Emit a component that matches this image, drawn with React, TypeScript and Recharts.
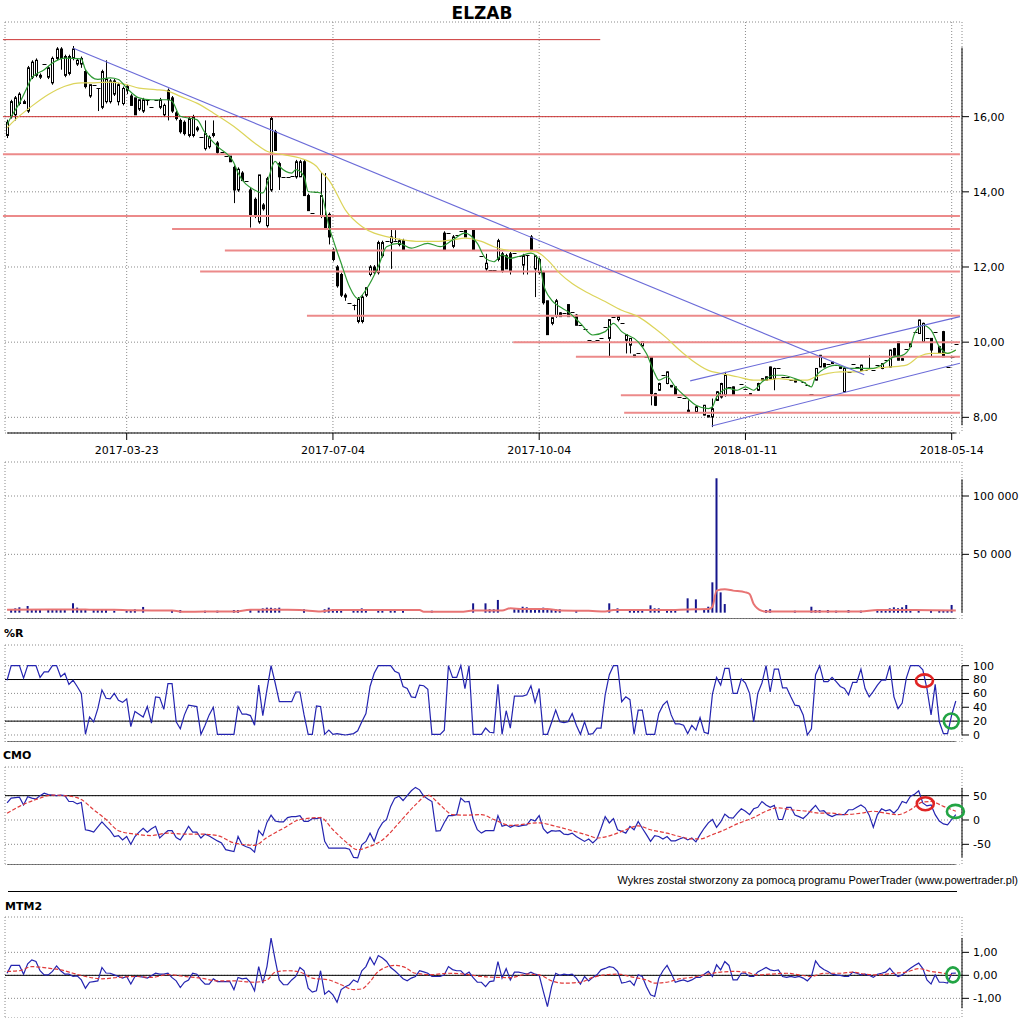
import React from "react";
import { ComposedChart, Bar, Line, XAxis, YAxis, CartesianGrid, ReferenceLine, ReferenceDot } from "recharts";

const FONT = "DejaVu Sans, Verdana, sans-serif";

// date ticks (bar index -> label)
const tickIdx = [29, 79, 129, 179, 229];
const tickDates = ["2017-03-23", "2017-07-04", "2017-10-04", "2018-01-11", "2018-05-14"];

// daily bars: open, high, low, close
const candles = [
  [15.5, 15.92, 15.43, 15.85], [16.0, 16.45, 15.95, 16.4], [16.05, 16.55, 15.9, 16.5], [16.35, 16.65, 16.3, 16.6], [16.35, 16.45, 16.35, 16.4],
  [16.15, 17.35, 16.1, 17.3], [17.05, 17.5, 17.0, 17.45], [17.1, 17.55, 17.05, 17.5], [17.05, 17.15, 17.0, 17.1], [17.4, 17.4, 17.4, 17.4],
  [17.05, 17.35, 17.0, 17.3], [16.9, 17.6, 16.85, 17.55], [17.55, 17.85, 17.5, 17.8], [17.8, 17.85, 17.25, 17.55], [17.1, 17.65, 17.05, 17.6],
  [17.15, 17.65, 17.1, 17.6], [17.55, 17.88, 17.5, 17.8], [17.4, 17.55, 17.35, 17.5], [17.4, 17.6, 17.3, 17.55], [17.2, 17.25, 16.75, 16.8],
  [16.55, 16.85, 16.5, 16.85], [16.85, 16.85, 16.85, 16.85], [16.75, 16.75, 16.15, 16.75], [16.25, 17.25, 16.2, 17.2], [16.4, 17.5, 16.35, 17.0],
  [16.4, 17.0, 16.35, 16.95], [16.6, 17.0, 16.55, 16.95], [16.4, 16.9, 16.3, 16.85], [16.35, 16.8, 16.3, 16.75], [16.7, 16.85, 16.6, 16.8],
  [16.55, 16.6, 16.3, 16.3], [16.5, 16.5, 16.05, 16.05], [16.2, 16.45, 16.15, 16.45], [16.15, 16.5, 16.1, 16.45], [16.45, 16.45, 16.3, 16.45],
  [16.25, 16.25, 16.25, 16.25], [16.45, 16.45, 16.45, 16.45], [16.25, 16.5, 16.2, 16.45], [16.05, 16.35, 16.0, 16.3], [16.7, 16.75, 15.9, 16.45],
  [16.5, 16.55, 16.1, 16.15], [16.1, 16.15, 15.9, 15.95], [15.9, 15.95, 15.55, 15.6], [15.85, 15.9, 15.5, 15.55], [15.5, 16.0, 15.45, 15.95],
  [15.5, 16.05, 15.45, 16.0], [15.7, 15.75, 15.6, 15.65], [15.45, 15.45, 15.45, 15.45], [15.15, 15.9, 15.1, 15.55], [15.2, 15.5, 15.15, 15.45],
  [15.55, 15.9, 15.45, 15.5], [15.3, 15.35, 15.0, 15.05], [15.05, 15.05, 15.05, 15.05], [14.95, 14.95, 14.95, 14.95], [14.95, 14.95, 14.8, 14.8],
  [14.65, 14.7, 13.7, 14.05], [14.05, 14.65, 14.0, 14.6], [14.5, 14.55, 14.3, 14.3], [14.3, 14.3, 14.3, 14.3], [14.05, 14.1, 13.05, 13.35],
  [13.8, 13.85, 13.3, 13.35], [13.2, 14.45, 13.15, 14.45], [13.65, 13.7, 13.5, 13.55], [13.1, 14.4, 13.05, 14.35], [14.05, 16.0, 14.0, 15.95],
  [15.6, 15.65, 15.1, 15.1], [14.75, 14.8, 14.05, 14.4], [14.4, 14.4, 14.4, 14.4], [14.4, 14.4, 14.4, 14.4], [14.42, 14.42, 14.42, 14.42],
  [14.4, 14.85, 14.35, 14.8], [14.4, 14.85, 14.4, 14.8], [14.8, 14.85, 13.9, 13.9], [13.9, 13.95, 13.5, 13.5], [13.43, 13.43, 13.43, 13.43],
  [14.0, 14.0, 14.0, 14.0], [13.35, 14.5, 13.3, 13.9], [13.35, 14.5, 13.0, 13.05], [13.4, 13.45, 12.6, 12.8], [12.45, 12.5, 12.15, 12.2],
  [12.0, 12.05, 11.45, 11.5], [11.8, 11.85, 11.2, 11.25], [11.25, 11.3, 11.1, 11.2], [11.03, 11.03, 11.03, 11.03], [11.0, 11.0, 10.85, 11.0],
  [10.55, 11.2, 10.5, 11.15], [10.55, 11.25, 10.5, 11.2], [11.25, 11.45, 11.2, 11.45], [11.8, 12.05, 11.75, 12.0], [12.0, 12.05, 11.8, 11.85],
  [11.85, 12.7, 11.8, 12.65], [12.3, 12.7, 12.25, 12.65], [12.68, 12.68, 12.68, 12.68], [12.65, 13.0, 11.95, 12.8], [12.7, 12.98, 12.7, 12.7],
  [12.6, 12.75, 12.55, 12.7], [12.7, 12.75, 12.45, 12.45], [12.45, 12.45, 12.45, 12.45], [12.45, 12.45, 12.45, 12.45], [12.45, 12.45, 12.45, 12.45],
  [12.7, 12.7, 12.7, 12.7], [12.68, 12.68, 12.68, 12.68], [12.7, 12.7, 12.7, 12.7], [12.45, 12.45, 12.45, 12.45], [12.45, 12.45, 12.45, 12.45],
  [12.45, 12.45, 12.45, 12.45], [12.9, 12.95, 12.45, 12.45], [12.9, 12.9, 12.9, 12.9], [12.55, 12.85, 12.5, 12.8], [12.85, 12.85, 12.85, 12.85],
  [12.97, 12.97, 12.97, 12.97], [13.0, 13.02, 12.8, 12.8], [13.0, 13.0, 13.0, 13.0], [13.0, 13.02, 12.45, 12.45], [12.45, 12.45, 12.45, 12.45],
  [12.3, 12.3, 12.3, 12.3], [11.95, 12.35, 11.9, 12.1], [11.92, 11.92, 11.92, 11.92], [11.92, 11.92, 11.92, 11.92], [12.2, 12.75, 12.15, 12.7],
  [12.35, 12.4, 11.85, 11.9], [12.3, 12.35, 11.95, 11.95], [12.35, 12.4, 11.8, 11.9], [12.37, 12.37, 12.37, 12.37], [12.28, 12.28, 12.28, 12.28],
  [12.05, 12.35, 11.8, 12.3], [12.32, 12.32, 11.8, 12.32], [12.8, 12.85, 12.45, 12.45], [11.95, 12.3, 11.2, 12.3], [11.85, 12.25, 11.8, 12.2],
  [11.85, 11.9, 11.0, 11.05], [11.1, 11.1, 10.2, 10.2], [10.5, 10.65, 10.45, 10.65], [10.7, 11.15, 10.65, 11.1], [10.78, 10.8, 10.68, 10.68],
  [10.77, 10.77, 10.77, 10.77], [11.0, 11.0, 10.68, 10.68], [10.81, 10.81, 10.81, 10.81], [10.72, 10.75, 10.45, 10.45], [10.45, 10.45, 10.45, 10.45],
  [10.36, 10.36, 10.36, 10.36], [10.05, 10.05, 10.05, 10.05], [10.03, 10.03, 10.03, 10.03], [10.05, 10.05, 10.05, 10.05], [10.1, 10.1, 10.1, 10.1],
  [10.41, 10.41, 10.41, 10.41], [10.1, 10.6, 9.6, 10.6], [10.68, 10.68, 10.68, 10.68], [10.6, 10.7, 10.55, 10.68], [10.5, 10.5, 10.5, 10.5],
  [10.05, 10.2, 9.7, 10.2], [9.92, 10.1, 9.7, 10.1], [9.66, 9.66, 9.6, 9.61], [9.7, 9.7, 9.7, 9.7], [9.9, 10.01, 9.88, 10.01],
  [9.61, 9.61, 9.61, 9.61], [9.6, 9.62, 8.32, 8.63], [8.63, 8.65, 8.3, 8.32], [8.72, 8.92, 8.7, 8.9], [9.12, 9.12, 9.12, 9.12],
  [8.9, 9.22, 8.88, 9.21], [8.85, 8.86, 8.8, 8.81], [8.81, 8.82, 8.58, 8.59], [8.54, 8.54, 8.54, 8.54], [8.52, 8.52, 8.52, 8.52],
  [8.19, 8.45, 8.14, 8.14], [8.14, 8.14, 8.14, 8.14], [8.14, 8.3, 8.12, 8.28], [8.14, 8.14, 8.14, 8.14], [8.06, 8.33, 8.05, 8.32],
  [8.05, 8.06, 8.0, 8.01], [8.01, 8.5, 7.74, 8.23], [8.45, 8.7, 8.44, 8.68], [8.54, 8.92, 8.5, 8.9], [8.59, 9.21, 8.55, 9.12],
  [8.81, 8.81, 8.81, 8.81], [8.81, 8.82, 8.59, 8.59], [8.59, 8.59, 8.59, 8.59], [8.9, 8.9, 8.9, 8.9], [8.75, 8.75, 8.75, 8.75],
  [8.63, 8.64, 8.59, 8.59], [8.59, 8.59, 8.59, 8.59], [8.72, 8.92, 8.7, 8.9], [8.99, 9.04, 8.98, 9.03], [8.99, 9.09, 8.98, 9.08],
  [9.34, 9.35, 9.03, 9.03], [9.03, 9.32, 8.72, 9.3], [9.3, 9.3, 9.3, 9.3], [9.08, 9.08, 9.08, 9.08], [9.08, 9.08, 9.08, 9.08],
  [9.0, 9.0, 9.0, 9.0], [8.94, 9.0, 8.93, 8.99], [8.99, 8.99, 8.99, 8.99], [8.94, 8.94, 8.94, 8.94], [8.85, 8.85, 8.85, 8.85],
  [8.63, 8.63, 8.63, 8.63], [8.99, 9.31, 8.98, 9.3], [9.34, 9.66, 9.33, 9.65], [9.43, 9.44, 9.33, 9.34], [9.43, 9.43, 9.43, 9.43],
  [9.47, 9.48, 9.43, 9.43], [9.39, 9.39, 9.39, 9.39], [9.34, 9.35, 9.3, 9.3], [8.68, 9.31, 8.66, 9.3], [9.21, 9.21, 9.21, 9.21],
  [9.43, 9.43, 9.43, 9.43], [9.35, 9.35, 9.35, 9.35], [9.25, 9.4, 9.24, 9.39], [9.25, 9.25, 9.25, 9.25], [9.3, 9.65, 9.3, 9.3],
  [9.25, 9.25, 9.25, 9.25], [9.39, 9.39, 9.39, 9.39], [9.3, 9.44, 9.28, 9.43], [9.52, 9.52, 9.52, 9.52], [9.34, 9.8, 9.33, 9.79],
  [9.83, 9.85, 9.65, 9.65], [10.01, 10.02, 9.52, 9.52], [9.56, 9.57, 9.52, 9.52], [9.83, 9.83, 9.83, 9.83], [9.88, 9.97, 9.87, 9.96],
  [10.28, 10.28, 10.28, 10.28], [10.23, 10.6, 10.22, 10.59], [10.01, 10.52, 10.0, 10.5], [10.1, 10.1, 10.1, 10.1], [10.1, 10.11, 9.61, 9.79],
  [10.28, 10.28, 10.28, 10.28], [9.88, 9.9, 9.7, 9.7], [10.28, 10.3, 9.61, 9.61], [9.34, 9.34, 9.34, 9.34], [9.61, 9.61, 9.61, 9.61],
  [9.96, 9.96, 9.96, 9.96],
];

// moving averages on price: [bar index, value]
const shortAvg = [
  [0, 15.79], [1, 16.0], [3, 16.36], [5, 16.81], [6, 17.04], [9, 17.25], [11, 17.43], [14, 17.56], [18, 17.54], [19, 17.25],
  [22, 16.99], [25, 17.03], [27, 16.99], [29, 16.76], [32, 16.5], [35, 16.45], [39, 16.45], [40, 16.41], [42, 16.01], [46, 15.92],
  [48, 15.57], [51, 15.21], [55, 14.77], [56, 14.5], [60, 14.05], [62, 13.97], [65, 14.81], [66, 14.68], [69, 14.5], [70, 14.59],
  [72, 14.41], [73, 14.01], [76, 13.97], [78, 13.1], [81, 12.1], [83, 11.48], [85, 11.16], [87, 11.39], [90, 12.01], [92, 12.54],
  [95, 12.63], [98, 12.5], [102, 12.63], [105, 12.54], [108, 12.72], [111, 12.9], [114, 12.63], [116, 12.23], [118, 12.14], [120, 12.32],
  [122, 12.23], [124, 12.28], [127, 12.37], [129, 12.19], [130, 11.56], [132, 11.12], [134, 10.94], [136, 10.81], [139, 10.5], [142, 10.19],
  [145, 10.28], [147, 10.5], [149, 10.28], [153, 10.01], [155, 9.7], [157, 9.17], [158, 8.99], [160, 9.08], [162, 8.81], [165, 8.5],
  [167, 8.32], [170, 8.23], [171, 8.28], [172, 8.54], [175, 8.77], [177, 8.72], [179, 8.81], [181, 8.72], [183, 8.94], [186, 9.12],
  [188, 9.12], [191, 9.03], [193, 8.94], [195, 8.81], [196, 9.08], [199, 9.34], [201, 9.39], [204, 9.3], [207, 9.3], [210, 9.3],
  [212, 9.39], [215, 9.61], [217, 9.65], [219, 9.88], [220, 10.23], [222, 10.45], [224, 10.32], [226, 9.88], [228, 9.7], [230, 9.79],
];
const longAvg = [
  [0, 15.7], [2, 15.92], [6, 16.28], [10, 16.59], [14, 16.81], [18, 16.9], [21, 16.9], [25, 16.92], [29, 16.85], [32, 16.76],
  [36, 16.72], [39, 16.68], [42, 16.54], [46, 16.36], [50, 16.1], [55, 15.74], [60, 15.3], [63, 15.08], [67, 14.99], [71, 14.9],
  [75, 14.68], [76, 14.54], [78, 14.32], [79, 14.14], [82, 13.52], [86, 13.08], [89, 12.9], [92, 12.81], [96, 12.72], [100, 12.68],
  [104, 12.68], [108, 12.72], [111, 12.77], [115, 12.68], [118, 12.54], [121, 12.45], [124, 12.41], [128, 12.41], [131, 12.19], [134, 11.83],
  [137, 11.56], [141, 11.3], [145, 11.08], [149, 10.85], [153, 10.68], [157, 10.37], [160, 10.1], [163, 9.79], [166, 9.52], [170, 9.25],
  [173, 9.17], [177, 9.08], [181, 8.99], [184, 8.99], [187, 9.03], [191, 8.99], [194, 8.99], [196, 9.08], [199, 9.17], [202, 9.21],
  [206, 9.21], [210, 9.3], [214, 9.34], [218, 9.39], [221, 9.61], [224, 9.7], [228, 9.7], [230, 9.79],
];

// support / resistance levels
const levelPrices = [18.05, 16.0, 15.0, 13.36, 13.01, 12.44, 11.88, 10.7, 10.0, 9.61, 8.59, 8.12];
const levelFrom = [-1, -1, -1, -1, 40, 52.8, 46.8, 72.7, 122.7, 137.9, 148.8, 149.6];
const levelTo = [143.8, 231, 231, 231, 231, 231, 231, 231, 231, 231, 231, 231];

// trend lines: [x1, y1, x2, y2]
const trendLines = [
  [16.07, 17.82, 207.8, 9.13],
  [165.6, 8.97, 231.0, 10.68],
  [170.8, 7.77, 231.0, 9.44],
];

// volume: [bar index, shares]
const volume = [
  [1, 2900], [2, 3700], [3, 4600], [5, 5700], [6, 3100], [7, 3100], [8, 3100], [10, 2900], [11, 2900], [12, 2900],
  [13, 2900], [14, 2900], [16, 8000], [17, 4300], [18, 2900], [19, 2900], [21, 2300], [22, 2300], [23, 2300], [24, 2900],
  [26, 1700], [29, 2300], [30, 2300], [31, 2900], [33, 4900], [40, 1700], [42, 2300], [48, 1700], [51, 1700], [55, 2300],
  [56, 2300], [59, 2900], [61, 2300], [62, 3700], [63, 4300], [64, 4300], [65, 3700], [66, 4300], [72, 2900], [77, 2900],
  [78, 4300], [79, 2900], [80, 2900], [81, 2900], [84, 1700], [85, 2900], [86, 3700], [87, 2900], [90, 2300], [91, 2900],
  [93, 2900], [94, 2900], [96, 1700], [103, 1700], [113, 8000], [116, 8000], [117, 2900], [118, 2900], [119, 10900], [123, 2900],
  [124, 3100], [125, 5100], [126, 4600], [127, 3700], [128, 3700], [129, 3700], [130, 4300], [131, 3100], [132, 2900], [133, 2900],
  [134, 2900], [138, 1700], [146, 8000], [148, 3700], [151, 2300], [152, 2900], [153, 2900], [154, 2900], [156, 6300], [157, 3700],
  [158, 3700], [160, 2300], [161, 2300], [162, 2300], [165, 12300], [167, 11400], [169, 3100], [170, 5100], [171, 26000], [172, 115200],
  [173, 17400], [174, 7400], [184, 2300], [185, 2900], [191, 1700], [195, 5100], [196, 2300], [197, 2300], [199, 2300], [201, 1700],
  [204, 2300], [207, 1700], [211, 2300], [212, 2300], [213, 2900], [214, 3700], [215, 4600], [216, 3700], [217, 4600], [218, 6600],
  [219, 2900], [221, 2300], [224, 2300], [226, 2300], [227, 1700], [228, 1700], [229, 6600],
];
const volumeAvg = [
  [0, 2600], [10, 2700], [20, 2600], [26, 2500], [30, 2000], [40, 1800], [43, 700], [48, 900], [55, 900], [59, 2500],
  [68, 2600], [71, 2300], [76, 1000], [79, 2300], [90, 2300], [100, 2200], [101, 800], [110, 800], [113, 1800], [120, 1800],
  [122, 3800], [125, 3100], [131, 3100], [134, 1800], [141, 1600], [145, 1000], [147, 2300], [160, 2300], [165, 2800], [170, 3100],
  [171, 5100], [172, 18900], [174, 20000], [176, 18900], [179, 17400], [180, 16000], [181, 7400], [183, 1500], [184, 900], [195, 900],
  [200, 900], [207, 1000], [211, 2300], [220, 2300], [230, 1800],
];

// Williams %R, one value per bar
const williamsR = [
  79, 100, 100, 100, 82, 100, 100, 100, 83, 91,
  91, 100, 100, 84, 89, 73, 79, 70, 60, 1,
  26, 19, 38, 65, 53, 52, 60, 50, 47, 52,
  12, 34, 30, 26, 41, 17, 55, 54, 37, 74,
  74, 19, 9, 29, 43, 42, 41, 1, 14, 29,
  40, 1, 1, 1, 1, 1, 41, 30, 30, 28,
  14, 72, 28, 65, 100, 75, 48, 48, 48, 48,
  62, 62, 29, 1, 1, 42, 41, 1, 7, 1,
  2, 1, 0, 1, 2, 6, 19, 31, 70, 89,
  100, 100, 100, 100, 92, 89, 70, 67, 55, 54,
  72, 71, 66, 1, 1, 1, 7, 100, 83, 83,
  100, 67, 100, 1, 1, 1, 10, 4, 3, 73,
  1, 35, 10, 56, 56, 56, 58, 71, 47, 67,
  1, 1, 18, 36, 19, 18, 19, 31, 14, 1,
  19, 1, 2, 10, 10, 58, 87, 100, 100, 48,
  55, 51, 1, 36, 36, 1, 1, 1, 31, 43,
  49, 29, 16, 16, 14, 2, 14, 7, 25, 4,
  2, 59, 83, 72, 96, 96, 60, 60, 81, 75,
  60, 19, 60, 75, 100, 62, 95, 95, 68, 68,
  55, 43, 42, 29, 0, 9, 87, 100, 77, 77,
  83, 77, 70, 67, 58, 76, 76, 95, 67, 55,
  63, 72, 79, 79, 100, 55, 38, 46, 82, 100,
  100, 100, 94, 67, 29, 73, 19, 2, 2, 29,
  49,
];

// CMO, one value per bar, plus its average [bar index, value]
const cmo = [
  35, 45, 46, 47, 31, 48, 45, 43, 50, 55,
  52, 51, 50, 51, 50, 38, 38, 33, 36, -20,
  -22, -25, -14, -4, -13, -22, -34, -32, -41, -34,
  -50, -34, -25, -17, -25, -18, -13, -37, -29, -22,
  -22, -36, -41, -28, -13, -25, -25, -37, -29, -33,
  -38, -43, -47, -61, -63, -65, -34, -51, -55, -58,
  -66, -22, -32, -5, 10, -2, -4, -4, 5, 7,
  7, 9, -3, -3, 3, 3, 5, -44, -58, -58,
  -58, -58, -58, -60, -77, -78, -51, -44, -27, -44,
  -20, -6, 1, 28, 45, 49, 40, 50, 60, 67,
  62, 49, 43, 38, -23, -22, -5, 9, 9, 11,
  45, 37, 38, 1, -20, -27, -22, -22, -22, 9,
  -13, -10, -15, -11, -13, -11, -10, 1, -2, 9,
  -18, -27, -22, -23, -22, -29, -30, -27, -34, -39,
  -44, -39, -47, -39, -17, 7, -6, 3, -20, -23,
  -27, -13, -20, -3, -17, -30, -44, -32, -34, -39,
  -34, -43, -43, -39, -36, -41, -37, -45, -30, -17,
  -6, 1, -15, -4, 12, 5, 4, 14, 23, 18,
  11, 23, 26, 38, 31, 26, 30, 1, 1, 26,
  26, 10, 7, 3, 11, 21, 30, 18, 19, 11,
  7, 11, 11, 11, 21, 21, 26, 31, 25, 10,
  -15, 11, 23, 19, 21, 14, 23, 38, 35, 49,
  53, 60, 35, 29, 31, 11, -2, -8, -10, 1,
  11,
];
const cmoAvg = [
  [0, 14], [3, 28], [7, 42], [11, 51], [15, 49], [18, 42], [21, 21], [24, 1], [27, -22], [31, -29],
  [35, -32], [39, -27], [43, -29], [47, -29], [51, -32], [55, -47], [60, -52], [63, -36], [67, -17], [71, 1],
  [76, 5], [79, -20], [82, -44], [85, -61], [88, -54], [91, -41], [95, -6], [99, 31], [102, 51], [105, 31],
  [108, 11], [111, 10], [115, 11], [118, 1], [122, -11], [129, -6], [133, -13], [137, -22], [141, -32], [143, -37],
  [147, -30], [150, -20], [153, -12], [156, -20], [160, -27], [163, -34], [166, -39], [168, -39], [171, -30], [174, -20],
  [177, -8], [181, 5], [184, 18], [187, 25], [190, 21], [194, 18], [197, 14], [200, 14], [203, 11], [207, 14],
  [210, 18], [213, 14], [216, 11], [219, 21], [222, 37], [224, 38], [227, 28], [230, 18],
];

// MTM2, one value per bar, plus its average
const mtm2 = [
  0.09, 0.43, 0.43, 0.43, 0.05, 0.5, 0.67, 0.6, 0.2, 0.02,
  0.02, 0.17, 0.41, 0.2, 0.05, 0.05, -0.05, -0.02, -0.2, -0.56,
  -0.3, -0.27, -0.24, 0.34, 0.1, 0.09, 0.02, -0.05, -0.12, -0.05,
  -0.38, -0.05, -0.05, -0.08, -0.12, -0.02, 0.09, 0.05, 0.05, 0.09,
  -0.1, -0.24, -0.53, -0.3, -0.2, 0.09, 0.05, -0.2, -0.38, -0.38,
  -0.15, -0.27, -0.27, -0.27, -0.27, -0.62, -0.09, -0.15, -0.12, -0.3,
  -0.67, 0.38, -0.34, 0.38, 1.62, 0.67, -0.2, -0.41, -0.41, -0.2,
  -0.05, 0.34, 0.2, -0.56, -0.73, -0.67, 0.2, -0.82, -0.67, -0.85,
  -1.17, -0.62, -0.5, -0.41, -0.2, -0.3, 0.2, 0.38, 0.78, 0.46,
  0.86, 0.75, 0.6, 0.34, 0.2, 0.03, -0.15, -0.24, -0.12, -0.05,
  0.2, 0.15, 0.09, -0.05, -0.05, -0.05, 0.02, 0.38, 0.25, 0.2,
  0.2, 0.02, 0.14, -0.1, -0.3, -0.3, -0.49, -0.27, -0.24, 0.6,
  -0.12, 0.29, -0.2, 0.14, 0.14, 0.1, 0.05, 0.14, 0.05, 0,
  -0.7, -1.36, -0.49, 0.09, 0, 0.05, 0.02, 0.05, -0.12, -0.38,
  -0.05, -0.24, -0.09, 0.02, 0.24, 0.3, 0.38, 0.34, 0.17, -0.34,
  -0.3, -0.24, -0.44, 0.02, -0.05, -0.5, -0.85, -0.92, -0.12, 0.2,
  0.43, 0.09, -0.3, -0.24, -0.2, -0.27, -0.2, -0.09, -0.09, 0.05,
  0.17, -0.05, 0.46, 0.24, 0.6, 0.43, -0.2, -0.2, 0.09, 0.09,
  -0.05, -0.05, 0.15, 0.24, 0.34, 0.24, 0.2, 0.24, -0.05, -0.09,
  -0.05, -0.09, -0.05, -0.12, -0.24, -0.05, 0.63, 0.38, 0.25, 0.17,
  0.05, 0.02, 0, -0.05, -0.05, 0.14, 0.09, 0.02, 0.05, 0,
  -0.09, 0.05, 0.09, 0.14, 0.31, 0.09, -0.05, 0.02, 0.17, 0.31,
  0.43, 0.53, 0.29, -0.2, -0.38, 0.02, -0.3, -0.3, -0.34, 0.09,
  0.1,
];
const mtm2Avg = [
  [0, 0.17], [3, 0.2], [6, 0.38], [10, 0.31], [13, 0.24], [16, 0.09], [19, -0.05], [23, -0.15], [27, -0.09], [31, -0.05],
  [35, -0.09], [39, 0.03], [43, -0.05], [47, -0.12], [51, -0.24], [55, -0.24], [60, -0.3], [63, -0.2], [65, 0.14], [68, 0.2],
  [71, 0.14], [74, -0.12], [78, -0.2], [81, -0.41], [84, -0.62], [86, -0.59], [88, -0.27], [90, 0.17], [94, 0.43], [96, 0.38],
  [99, 0.09], [103, 0.03], [107, 0.09], [111, 0.05], [115, -0.05], [119, -0.09], [122, -0.1], [126, 0.05], [129, 0.02], [132, -0.24],
  [135, -0.34], [139, -0.3], [142, -0.09], [145, 0.02], [148, 0.05], [152, -0.09], [155, -0.2], [157, -0.34], [160, -0.3], [163, -0.15],
  [166, -0.09], [169, 0.02], [173, 0.14], [176, 0.17], [179, 0.14], [182, 0.02], [185, 0.05], [189, 0.09], [192, 0.02], [195, -0.05],
  [198, 0.09], [202, 0.09], [205, 0.14], [208, 0.05], [211, 0.02], [215, 0.09], [218, 0.14], [221, 0.29], [224, 0.17], [227, 0.09],
  [229, 0.02],
];

// signal marks: [bar index, value]
const wrSignals = { red: [222.4, 78.4], green: [228.9, 20.2] };
const cmoSignals = { red: [222.6, 33.5], green: [229.9, 17.7] };
const mtmSignals = { green: [229.3, 0.02] };

const X_DOMAIN: [number, number] = [-0.5, 231.5];
const X_END = 231.5;
const AX_START = 0;
const AX_END = 230;

const toMap = (pairs: number[][]) => new Map(pairs.map((p) => [p[0], p[1]]));
const shortMap = toMap(shortAvg);
const longMap = toMap(longAvg);
const volMap = toMap(volume);
const volAvgMap = toMap(volumeAvg);
const cmoAvgMap = toMap(cmoAvg);
const mtmAvgMap = toMap(mtm2Avg);

const priceRows = candles.map((k, i) => ({
  i, o: k[0], h: k[1], l: k[2], c: k[3], range: [k[2], k[1]],
  green: shortMap.get(i), yellow: longMap.get(i),
}));
const volRows = candles.map((_, i) => ({ i, v: volMap.get(i), avg: volAvgMap.get(i) }));
const wrRows = williamsR.map((v, i) => ({ i, v }));
const cmoRows = cmo.map((v, i) => ({ i, v, avg: cmoAvgMap.get(i) }));
const mtmRows = mtm2.map((v, i) => ({ i, v, avg: mtmAvgMap.get(i) }));

const comma = (v: number) => v.toFixed(2).replace(".", ",");
const spaced = (v: number) => String(v).replace(/\B(?=(\d{3})+(?!\d))/g, " ");
const dateLabel = (v: number) => tickDates[tickIdx.indexOf(v)] ?? "";

const tickStyle = { fontSize: 11, fill: "#000", fontFamily: FONT };
const MARGIN_L = 5;
const MARGIN_R = 7;
const GRID = "#8a8a8a";
const BLUE = "#2424b0";

function Candle(props: any) {
  const { x, y, width, height, payload } = props;
  if (x == null || y == null || !payload) return null;
  const cx = Math.round(x + width / 2);
  const top = Math.min(y, y + height);
  const bot = Math.max(y, y + height);
  const { o, h, l, c } = payload;
  const span = h - l;
  const k = span > 0 ? (bot - top) / span : 0;
  const py = (v: number) => top + (h - v) * k;
  const b1 = py(Math.max(o, c));
  const b2 = py(Math.min(o, c));
  return (
    <g>
      {span > 0 && <line x1={cx + 0.5} x2={cx + 0.5} y1={top} y2={bot} stroke="#000" />}
      {b2 - b1 < 1.2 ? (
        <line x1={cx - 1.5} x2={cx + 2.5} y1={Math.round(b1) + 0.5} y2={Math.round(b1) + 0.5} stroke="#000" />
      ) : (
        <rect x={cx - 0.5} y={b1} width={2} height={b2 - b1} fill={c >= o ? "#fff" : "#000"} stroke="#000" />
      )}
    </g>
  );
}

const ring = (color: string, rx: number, ry: number) => (p: any) =>
  <ellipse cx={p.cx} cy={p.cy} rx={rx} ry={ry} fill="none" stroke={color} strokeWidth={2.6} />;

function hiddenX() {
  return (
    <XAxis type="number" dataKey="i" domain={X_DOMAIN} allowDataOverflow ticks={tickIdx} interval={0}
      height={0} tick={false} axisLine={false} tickLine={false} />
  );
}

function rightY(domain: [number, number], ticks: number[], fmt?: (v: number) => string, width = 55) {
  return (
    <YAxis orientation="right" width={width} domain={domain} allowDataOverflow ticks={ticks} interval={0}
      tickFormatter={fmt} tick={tickStyle} tickLine={{ stroke: "#000" }} tickSize={7} tickMargin={4} axisLine={false} />
  );
}

function axisLine(lo: number, hi: number) {
  return (
    <ReferenceLine segment={[{ x: X_END, y: lo }, { x: X_END, y: hi }]} stroke="#000" ifOverflow="visible" />
  );
}

function baseLine(y: number) {
  return (
    <ReferenceLine segment={[{ x: AX_START, y }, { x: AX_END, y }]} stroke="#000" ifOverflow="visible" />
  );
}

export default function App() {
  const PRICE_DOMAIN: [number, number] = [7.583, 18.519];
  const VOL_DOMAIN: [number, number] = [-5430, 129150];
  const WR_DOMAIN: [number, number] = [-10.1, 129.8];
  const CMO_DOMAIN: [number, number] = [-92.5, 108.9];
  const MTM_DOMAIN: [number, number] = [-1.855, 2.536];

  return (
    <div style={{ position: "absolute", left: 0, top: 0, width: 1024, height: 1018, background: "#fff", overflow: "hidden" }}>
      <div style={{ position: "absolute", left: 0, top: 0 }}>
        <ComposedChart width={1024} height={460} data={priceRows} margin={{ top: 22, right: MARGIN_R, bottom: 0, left: MARGIN_L }}>
          <CartesianGrid stroke={GRID} strokeDasharray="1 2" />
          <XAxis type="number" dataKey="i" domain={X_DOMAIN} allowDataOverflow ticks={tickIdx} interval={0} height={27}
            tickFormatter={dateLabel} tick={tickStyle} tickLine={{ stroke: "#000" }} tickSize={7} tickMargin={6} axisLine={false} />
          {rightY(PRICE_DOMAIN, [8, 10, 12, 14, 16], comma)}
          {levelPrices.map((p, n) => (
            <ReferenceLine key={"lv" + n} segment={[{ x: levelFrom[n], y: p }, { x: levelTo[n], y: p }]}
              stroke={n < 2 ? "#cc3535" : "#ec8a8a"} strokeWidth={n < 2 ? 1 : 2} ifOverflow="visible" />
          ))}
          <Line dataKey="yellow" type="monotone" stroke="#dcd45a" strokeWidth={1.2} dot={false} activeDot={false} connectNulls isAnimationActive={false} />
          <Line dataKey="green" type="monotone" stroke="#2f9a35" strokeWidth={1.2} dot={false} activeDot={false} connectNulls isAnimationActive={false} />
          <Bar dataKey="range" barSize={4} shape={Candle} isAnimationActive={false} />
          {trendLines.map((t, n) => (
            <ReferenceLine key={"tr" + n} segment={[{ x: t[0], y: t[1] }, { x: t[2], y: t[3] }]} stroke="#6b6bd8" strokeWidth={1.1} ifOverflow="visible" />
          ))}
          {axisLine(7.79, 17.84)}
          {baseLine(PRICE_DOMAIN[0])}
        </ComposedChart>
      </div>

      <div style={{ position: "absolute", left: 0, top: 460 }}>
        <ComposedChart width={1024} height={159} data={volRows} margin={{ top: 2, right: MARGIN_R, bottom: 0, left: MARGIN_L }}>
          <CartesianGrid stroke={GRID} strokeDasharray="1 2" />
          {hiddenX()}
          {rightY(VOL_DOMAIN, [50000, 100000], spaced)}
          <Bar dataKey="v" barSize={2} fill="#15158c" isAnimationActive={false} />
          <Line dataKey="avg" type="monotone" stroke="#e87474" strokeWidth={2} dot={false} activeDot={false} connectNulls isAnimationActive={false} />
          {axisLine(0, 114300)}
          {baseLine(VOL_DOMAIN[0])}
        </ComposedChart>
      </div>

      <div style={{ position: "absolute", left: 0, top: 642 }}>
        <ComposedChart width={1024} height={100} data={wrRows} margin={{ top: 3, right: MARGIN_R, bottom: 0, left: MARGIN_L }}>
          <CartesianGrid stroke={GRID} strokeDasharray="1 2" />
          {hiddenX()}
          {rightY(WR_DOMAIN, [0, 20, 40, 60, 80, 100])}
          <ReferenceLine y={80} stroke="#000" />
          <ReferenceLine y={20} stroke="#000" />
          <Line dataKey="v" type="linear" stroke={BLUE} strokeWidth={1.2} dot={false} activeDot={false} isAnimationActive={false} />
          {axisLine(0, 100)}
          {baseLine(WR_DOMAIN[0])}
          <ReferenceDot x={wrSignals.red[0]} y={wrSignals.red[1]} ifOverflow="visible" shape={ring("#e02424", 8.5, 6.3)} />
          <ReferenceDot x={wrSignals.green[0]} y={wrSignals.green[1]} ifOverflow="visible" shape={ring("#22a444", 7.5, 7.5)} />
        </ComposedChart>
      </div>

      <div style={{ position: "absolute", left: 0, top: 765 }}>
        <ComposedChart width={1024} height={100} data={cmoRows} margin={{ top: 2, right: MARGIN_R, bottom: 0, left: MARGIN_L }}>
          <CartesianGrid stroke={GRID} strokeDasharray="1 2" />
          {hiddenX()}
          {rightY(CMO_DOMAIN, [-50, 0, 50])}
          <ReferenceLine y={50} stroke="#000" />
          <Line dataKey="v" type="linear" stroke={BLUE} strokeWidth={1.2} dot={false} activeDot={false} isAnimationActive={false} />
          <Line dataKey="avg" type="monotone" stroke="#e03a3a" strokeWidth={1.2} strokeDasharray="4 2" dot={false} activeDot={false} connectNulls isAnimationActive={false} />
          {axisLine(-77, 66)}
          {baseLine(CMO_DOMAIN[0])}
          <ReferenceDot x={cmoSignals.red[0]} y={cmoSignals.red[1]} ifOverflow="visible" shape={ring("#e02424", 8.5, 6.5)} />
          <ReferenceDot x={cmoSignals.green[0]} y={cmoSignals.green[1]} ifOverflow="visible" shape={ring("#22a444", 8.5, 6.5)} />
        </ComposedChart>
      </div>

      <div style={{ position: "absolute", left: 0, top: 915 }}>
        <ComposedChart width={1024} height={103} data={mtmRows} margin={{ top: 2, right: MARGIN_R, bottom: 0, left: MARGIN_L }}>
          <CartesianGrid stroke={GRID} strokeDasharray="1 2" />
          {hiddenX()}
          {rightY(MTM_DOMAIN, [-1, 0, 1], comma)}
          <ReferenceLine y={0} stroke="#000" />
          <Line dataKey="v" type="linear" stroke={BLUE} strokeWidth={1.2} dot={false} activeDot={false} isAnimationActive={false} />
          <Line dataKey="avg" type="monotone" stroke="#e03a3a" strokeWidth={1.2} strokeDasharray="4 2" dot={false} activeDot={false} connectNulls isAnimationActive={false} />
          {axisLine(-1.43, 1.62)}
          <ReferenceDot x={mtmSignals.green[0]} y={mtmSignals.green[1]} ifOverflow="visible" shape={ring("#22a444", 6.5, 7.5)} />
        </ComposedChart>
      </div>

      <svg width={1024} height={1018} style={{ position: "absolute", left: 0, top: 0, pointerEvents: "none" }}>
        <text x={482} y={19} textAnchor="middle" fontFamily={FONT} fontWeight="bold" fontSize={17} fill="#000">ELZAB</text>
        <text x={4} y={637} fontFamily={FONT} fontWeight="bold" fontSize={11} fill="#000">%R</text>
        <text x={3} y={759} fontFamily={FONT} fontWeight="bold" fontSize={11} fill="#000">CMO</text>
        <text x={5} y={910} fontFamily={FONT} fontWeight="bold" fontSize={11} fill="#000">MTM2</text>
        <text x={1018} y={884} textAnchor="end" fontFamily="Liberation Sans, Arial, sans-serif" fontSize={11} fill="#000">
          Wykres został stworzony za pomocą programu PowerTrader (www.powertrader.pl)
        </text>
        <line x1={8} x2={957} y1={891.5} y2={891.5} stroke="#000" />
      </svg>
    </div>
  );
}
